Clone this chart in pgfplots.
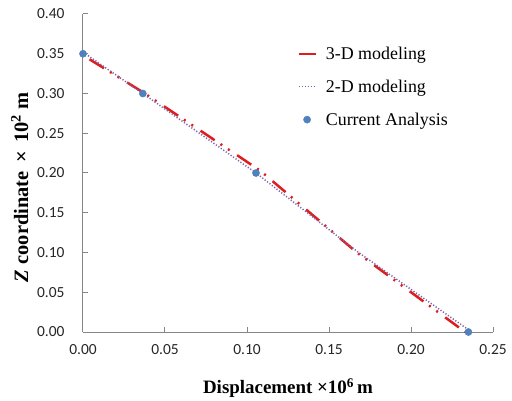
\documentclass[border=0pt]{standalone}
\usepackage{fontspec}
\setmainfont{Liberation Serif}
\newfontfamily\carlito{Carlito}
\usepackage{pgfplots}
\pgfplotsset{compat=1.18}
\definecolor{redl}{RGB}{220,30,30}
\definecolor{purp}{RGB}{128,100,170}
\definecolor{bluem}{RGB}{79,129,189}
\definecolor{axgray}{RGB}{134,134,134}
\begin{document}
\begin{tikzpicture}
\begin{axis}[
  scale only axis, width=410bp, height=318bp,
  xmin=0, xmax=0.25, ymin=0, ymax=0.40,
  xtick={0,0.05,0.10,0.15,0.20,0.25},
  xticklabels={0.00,0.05,0.10,0.15,0.20,0.25},
  ytick={0,0.05,0.10,0.15,0.20,0.25,0.30,0.35,0.40},
  yticklabels={0.00,0.05,0.10,0.15,0.20,0.25,0.30,0.35,0.40},
  axis lines=left,
  axis line style={-, axgray, line width=1bp},
  tick align=inside, major tick length=5bp,
  tick style={axgray, line width=1bp},
  clip=false,
  ticklabel style={font=\carlito\fontsize{15.5}{18}\selectfont, text=black!85},
  yticklabel style={xshift=-15bp},
  xticklabel style={yshift=-9bp},
  xlabel={\textbf{Displacement ×10\textsuperscript{6}\,m}},
  ylabel={\textbf{\textit{Z} coordinate \,×\, 10\textsuperscript{2} m}},
  xlabel style={at={(axis description cs:0.5,-0.176)}, anchor=center, font=\fontsize{19}{22}\selectfont},
  ylabel style={at={(axis description cs:-0.154,0.455)}, anchor=center, font=\fontsize{20.5}{24}\selectfont},
  legend style={draw=none, fill=none, at={(axis description cs:0.515,0.91)}, anchor=north west,
    font=\fontsize{18}{21}\selectfont, row sep=15bp,
    /tikz/every odd column/.append style={column sep=7bp}},
  legend cell align=left,
]
\addplot[redl, line width=2.5bp, dash pattern=on 17bp off 7bp on 2bp off 7bp on 2bp off 9bp]
  coordinates {(0.004,0.343) (0.037,0.301) (0.108,0.203) (0.167,0.100) (0.233,0.0)};
\addlegendentry{3-D modeling}
\addplot[purp, line width=1.5bp, dash pattern=on 1.2bp off 1.8bp]
  coordinates {(0,0.352) (0.0365,0.300) (0.1055,0.200) (0.168,0.100) (0.237,0.0)};
\addlegendentry{2-D modeling}
\addplot[only marks, mark=*, mark size=3.6bp, mark options={fill=bluem, draw=bluem}]
  coordinates {(0,0.35) (0.0365,0.30) (0.1055,0.20) (0.235,0.0)};
\addlegendentry{Current Analysis}
\end{axis}
\pgfresetboundingbox
\path[use as bounding box] ([shift={(-83bp,-69bp)}]current axis.south west) rectangle ([shift={(19bp,14bp)}]current axis.north east);
\end{tikzpicture}
\end{document}
